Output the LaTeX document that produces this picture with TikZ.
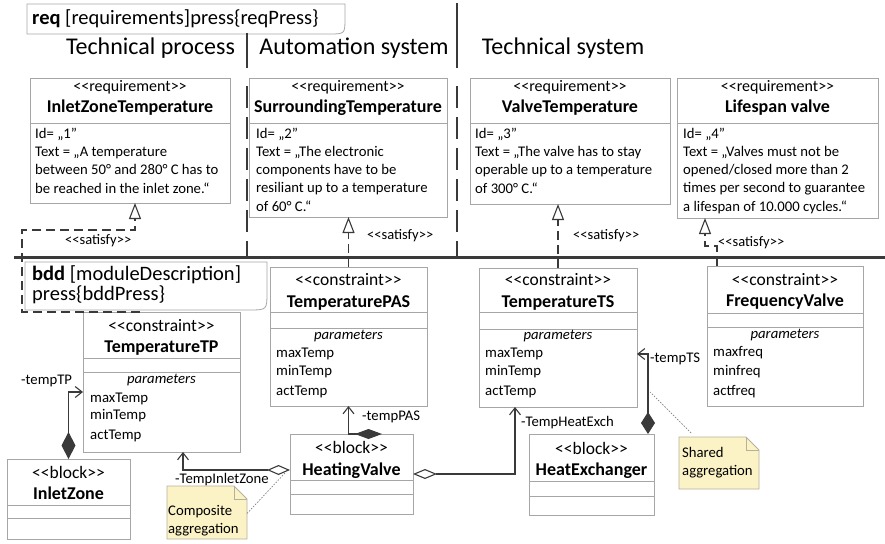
\documentclass[tikz,border=0pt]{standalone}
\usepackage{fontspec}
\setmainfont{Carlito}
\usetikzlibrary{arrows.meta}
\definecolor{boxgray}{HTML}{A6A6A6}
\definecolor{conngray}{HTML}{3A3A3A}
\definecolor{notefill}{HTML}{FBF3C5}
\definecolor{notedraw}{HTML}{B5B09A}
\newcommand{\stO}{<\kern0pt<}
\newcommand{\stC}{>\kern0pt>}
\begin{document}
\begin{tikzpicture}[x=1pt,y=-1pt,
  box/.style={draw=boxgray, line width=0.8pt, fill=white, inner sep=0pt, outer sep=0pt, anchor=north west},
  divider/.style={draw=boxgray, line width=0.8pt},
  conn/.style={draw=conngray, line width=1.1pt},
  sat/.style={conn, dash pattern=on 9pt off 5pt},
  sepline/.style={draw=conngray, line width=2pt},
  txt/.style={inner sep=0pt, anchor=mid west, font=\fontsize{14.7}{17}\selectfont},
  stereo/.style={inner sep=0pt, anchor=mid, font=\fontsize{17.5}{20}\selectfont},
  rstereo/.style={inner sep=0pt, anchor=mid, font=\fontsize{16}{19}\selectfont},
  bname/.style={inner sep=0pt, anchor=mid, font=\fontsize{18}{21}\selectfont\bfseries},
  param/.style={inner sep=0pt, anchor=mid west, font=\fontsize{14.8}{17}\selectfont},
  paramhd/.style={inner sep=0pt, anchor=mid, font=\fontsize{14.7}{17}\selectfont\itshape},
  headtxt/.style={inner sep=0pt, anchor=mid, font=\fontsize{24}{28}\selectfont},
  tabtxt/.style={inner sep=0pt, anchor=mid west, font=\fontsize{20.5}{24}\selectfont},
  satl/.style={inner sep=0pt, anchor=mid west, font=\fontsize{14.5}{17}\selectfont},
  notebox/.style={inner sep=0pt, outer sep=0pt, anchor=north west},
  notepath/.style={draw=notedraw, line width=0.8pt, fill=notefill},
  dotl/.style={draw=gray, line width=0.7pt, dash pattern=on 1.5pt off 1.5pt},
  sattip/.tip={Triangle[open, length=16pt, width=12pt]},
  barb/.tip={Straight Barb[length=7pt, width=11pt]},
  odia/.tip={Diamond[open, length=23pt, width=10pt]}
]
\useasboundingbox (0,0) rectangle (885,543);

% ---------- req frame tab ----------
\draw[draw=boxgray, line width=0.8pt] (27,34) -- (27,4) -- (345,4) -- (345,18) .. controls (345,34) and (345,34) .. (329,34) -- cycle;
\node[tabtxt] (reqtab) at (32,22) {\textbf{req} [requirements]press\{reqPress\}};

% ---------- headings ----------
\node[headtxt] (h1) at (150.5,52) {Technical process};
\node[headtxt] (h2) at (354,52) {Automation system};
\node[headtxt] (h3) at (563,52) {Technical system};
\draw[sepline] (247,33) -- (247,68);
\draw[sepline] (457,3) -- (457,68);
\draw[sepline, dash pattern=on 22pt off 9pt] (247,86) -- (247,258);
\draw[sepline, dash pattern=on 22pt off 9pt] (457,86) -- (457,258);
\draw[draw=conngray, line width=3pt] (14,257) -- (885,257);

% ---------- requirement boxes ----------
\node[box, minimum width=200pt, minimum height=125pt] (r1) at (30,78) {};
\node[box, minimum width=198pt, minimum height=139pt] (r2) at (249,78) {};
\node[box, minimum width=200pt, minimum height=126pt] (r3) at (470,78) {};
\node[box, minimum width=201pt, minimum height=140pt] (r4) at (677,78) {};
\foreach \r in {r1,r2,r3,r4} \draw[divider] (\r.west |- 0,123) -- (\r.east |- 0,123);

\node[rstereo] (r1s) at (130,89) {\stO requirement\stC};
\node[bname] (r1n) at (130,110) {InletZoneTemperature};
\node[txt] (r1a) at (35,136) {Id= „1"};
\node[txt] (r1b) at (35,154) {Text = „A temperature};
\node[txt] (r1c) at (35,172) {between 50° and 280° C has to};
\node[txt] (r1d) at (35,191) {be reached in the inlet zone.“};

\node[rstereo] (r2s) at (348,89) {\stO requirement\stC};
\node[bname] (r2n) at (348,110) {SurroundingTemperature};
\node[txt] (r2a) at (256,136) {Id= „2"};
\node[txt] (r2b) at (256,154) {Text = „The electronic};
\node[txt] (r2c) at (256,172) {components have to be};
\node[txt] (r2d) at (256,190) {resiliant up to a temperature};
\node[txt] (r2e) at (256,209) {of 60° C.“};

\node[rstereo] (r3s) at (570,89) {\stO requirement\stC};
\node[bname] (r3n) at (570,110) {ValveTemperature};
\node[txt] (r3a) at (475,136) {Id= „3"};
\node[txt] (r3b) at (475,154) {Text = „The valve has to stay};
\node[txt] (r3c) at (475,172) {operable up to a temperature};
\node[txt] (r3d) at (475,191) {of 300° C.“};

\node[rstereo] (r4s) at (777.5,89) {\stO requirement\stC};
\node[bname] (r4n) at (777.5,110) {Lifespan valve};
\node[txt] (r4a) at (683,136) {Id= „4"};
\node[txt] (r4b) at (683,154) {Text = „Valves must not be};
\node[txt] (r4c) at (683,172) {opened/closed more than 2};
\node[txt] (r4d) at (683,190) {times per second to guarantee};
\node[txt] (r4e) at (683,209) {a lifespan of 10.000 cycles.“};

% ---------- bdd frame tab ----------
\draw[draw=boxgray, line width=0.8pt, fill=white] (25,310) -- (25,262) -- (267,262) -- (267,292) .. controls (267,310) and (267,310) .. (249,310) -- cycle;
\node[tabtxt] (bdd1) at (32,278) {\textbf{bdd} [moduleDescription]};
\node[tabtxt] (bdd2) at (32,298) {press\{bddPress\}};

% ---------- constraint boxes ----------
\node[box, minimum width=157pt, minimum height=140pt] (tp) at (83,312) {};
\draw[divider] (tp.west |- 0,358) -- (tp.east |- 0,358);
\draw[divider] (tp.west |- 0,372) -- (tp.east |- 0,372);
\node[stereo] (tps) at (161.5,329) {\stO constraint\stC};
\node[bname] (tpn) at (161.5,350) {TemperatureTP};
\node[paramhd] (tph) at (161.5,381) {parameters};
\node[param] (tp1) at (90,400) {maxTemp};
\node[param] (tp2) at (90,417) {minTemp};
\node[param] (tp3) at (90,437) {actTemp};

\node[box, minimum width=157pt, minimum height=139pt] (tpas) at (270,267) {};
\draw[divider] (tpas.west |- 0,312) -- (tpas.east |- 0,312);
\draw[divider] (tpas.west |- 0,328) -- (tpas.east |- 0,328);
\node[stereo] (tpass) at (348.5,283) {\stO constraint\stC};
\node[bname] (tpasn) at (348.5,305) {TemperaturePAS};
\node[paramhd] (tpash) at (348.5,337) {parameters};
\node[param] (tpas1) at (276,355) {maxTemp};
\node[param] (tpas2) at (276,373) {minTemp};
\node[param] (tpas3) at (276,393) {actTemp};

\node[box, minimum width=158pt, minimum height=139pt] (ts) at (479,268) {};
\draw[divider] (ts.west |- 0,312) -- (ts.east |- 0,312);
\draw[divider] (ts.west |- 0,329) -- (ts.east |- 0,329);
\node[stereo] (tss) at (558,283) {\stO constraint\stC};
\node[bname] (tsn) at (558,305) {TemperatureTS};
\node[paramhd] (tsh) at (558,337) {parameters};
\node[param] (ts1) at (485,355) {maxTemp};
\node[param] (ts2) at (485,373) {minTemp};
\node[param] (ts3) at (485,393) {actTemp};

\node[box, minimum width=156pt, minimum height=140pt] (fv) at (707,266) {};
\draw[divider] (fv.west |- 0,313) -- (fv.east |- 0,313);
\draw[divider] (fv.west |- 0,327) -- (fv.east |- 0,327);
\node[stereo] (fvs) at (785,283) {\stO constraint\stC};
\node[bname] (fvn) at (785,304) {FrequencyValve};
\node[paramhd] (fvh) at (785,336) {parameters};
\node[param] (fv1) at (713,354) {maxfreq};
\node[param] (fv2) at (713,373) {minfreq};
\node[param] (fv3) at (713,393) {actfreq};

% ---------- blocks ----------
\node[box, minimum width=123pt, minimum height=80pt] (iz) at (7,459) {};
\draw[divider] (iz.west |- 0,505) -- (iz.east |- 0,505);
\draw[divider] (iz.west |- 0,518) -- (iz.east |- 0,518);
\node[stereo] (izs) at (68.5,476) {\stO block\stC};
\node[bname] (izn) at (68.5,497) {InletZone};

\node[box, minimum width=123pt, minimum height=80pt] (hv) at (290,434) {};
\draw[divider] (hv.west |- 0,480) -- (hv.east |- 0,480);
\draw[divider] (hv.west |- 0,494) -- (hv.east |- 0,494);
\node[stereo] (hvs) at (351.5,451) {\stO block\stC};
\node[bname] (hvn) at (351.5,473) {HeatingValve};

\node[box, minimum width=125pt, minimum height=81pt] (hx) at (529,434) {};
\draw[divider] (hx.west |- 0,481) -- (hx.east |- 0,481);
\draw[divider] (hx.west |- 0,496) -- (hx.east |- 0,496);
\node[stereo] (hxs) at (591.5,452) {\stO block\stC};
\node[bname] (hxn) at (591.5,473) {HeatExchanger};

% ---------- satisfy connectors ----------
\coordinate (s1a) at (22,312);
\coordinate (s1b) at (22,230);
\draw[sat, -{sattip}] ([xshift=-21.5pt]tp.north) -- (s1a) -- (s1b) -| ([xshift=5pt]r1.south);
\node[satl] (sl1) at (65,242) {\stO satisfy\stC};

\draw[sat, -{sattip}] (tpas.north) -- (tpas.north |- r2.south);
\node[satl] (sl2) at (367,237) {\stO satisfy\stC};

\draw[sat, -{sattip}] (ts.north) -- (ts.north |- r3.south);
\node[satl] (sl3) at (573,237) {\stO satisfy\stC};

\coordinate (s4) at (705,246);
\draw[sat, -{sattip}] ([xshift=-68pt]fv.north) |- (s4) -- (s4 |- r4.south);
\node[satl] (sl4) at (718,244) {\stO satisfy\stC};

% ---------- association connectors ----------
\draw[conn, {Diamond[length=27pt, width=14pt]}-{barb}] (iz.north) |- ([yshift=-10pt]tp.west);
\node[txt] (lab1) at (21,382) {-tempTP};

\draw[conn, {Diamond[length=27pt, width=10pt]}-{barb}] ([xshift=30.5pt]hv.north) -| (tpas.south);
\node[txt] (lab2) at (362,418) {-tempPAS};

\draw[conn, {odia}-{barb}] ([yshift=4pt]hv.west) -| ([xshift=21.5pt]tp.south);
\node[txt] (lab3) at (175,481) {-TempInletZone};

\draw[conn, {Diamond[open, length=24pt, width=10pt]}-{barb}] (hv.east) -| ([xshift=-43pt]ts.south);
\node[txt] (lab4) at (521,424) {-TempHeatExch};

\draw[conn, {Diamond[length=22pt, width=14pt]}-{barb}] ([xshift=56.5pt]hx.north) |- ([yshift=-16.5pt]ts.east);
\node[txt] (lab5) at (650,360) {-tempTS};

% ---------- notes ----------
\node[notebox, minimum width=80pt, minimum height=53pt] (n1) at (167,486) {};
\draw[notepath] (n1.north west) -- ([xshift=-13pt]n1.north east) -- ([yshift=-13pt]n1.north east) -- (n1.south east) -- (n1.south west) -- cycle;
\draw[draw=notedraw, line width=0.8pt] ([xshift=-13pt]n1.north east) -- ([xshift=-13pt,yshift=-13pt]n1.north east) -- ([yshift=-13pt]n1.north east);
\node[txt] (n1a) at (168,513) {Composite};
\node[txt] (n1b) at (168,531) {aggregation};
\draw[dotl] ([yshift=-1pt]n1.east) -- ([xshift=-5pt,yshift=1pt]hv.west);

\node[notebox, minimum width=80pt, minimum height=52pt] (n2) at (679,437) {};
\draw[notepath] (n2.north west) -- ([xshift=-13pt]n2.north east) -- ([yshift=-13pt]n2.north east) -- (n2.south east) -- (n2.south west) -- cycle;
\draw[draw=notedraw, line width=0.8pt] ([xshift=-13pt]n2.north east) -- ([xshift=-13pt,yshift=-13pt]n2.north east) -- ([yshift=-13pt]n2.north east);
\node[txt] (n2a) at (682,455) {Shared};
\node[txt] (n2b) at (682,473) {aggregation};
\coordinate (n2c) at (650,392);
\draw[dotl] ([xshift=12pt,yshift=4pt]n2.north west) -- (n2c);
\end{tikzpicture}
\end{document}
